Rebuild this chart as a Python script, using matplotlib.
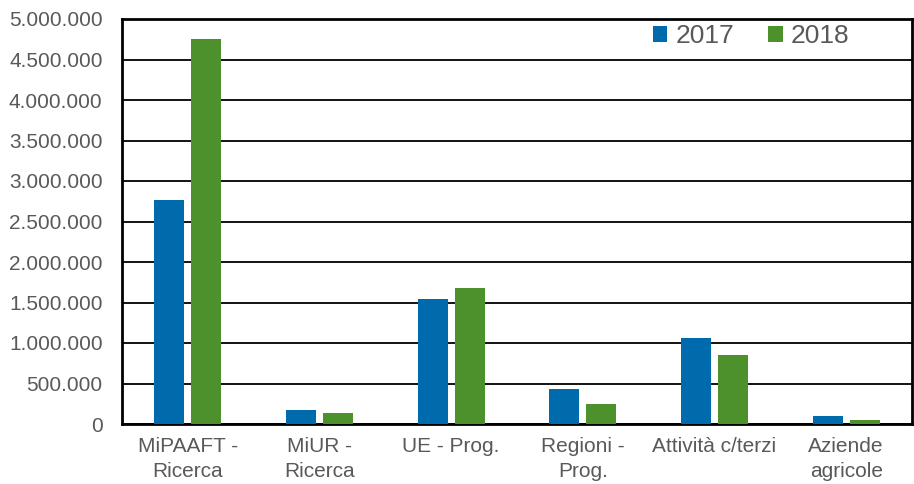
import matplotlib
matplotlib.use("Agg")
import matplotlib.pyplot as plt
import numpy as np
from matplotlib.ticker import FuncFormatter

categories = ["MiPAAFT -\nRicerca", "MiUR -\nRicerca", "UE - Prog.", "Regioni -\nProg.", "Attività c/terzi", "Aziende\nagricole"]
series_2017 = [2765000, 170000, 1540000, 430000, 1060000, 100000]
series_2018 = [4750000, 135000, 1680000, 245000, 850000, 50000]
yticks = [0, 500000, 1000000, 1500000, 2000000, 2500000, 3000000, 3500000, 4000000, 4500000, 5000000]

plt.rcParams['font.family'] = ['Liberation Sans', 'DejaVu Sans']

fig = plt.figure(figsize=(9.14, 4.84), dpi=100)
ax = fig.add_axes([122/914, 1 - 424/484, (912-122)/914, (424-19)/484])

x = np.arange(len(categories))
w = 0.228
off = 0.14
ax.bar(x - off, series_2017, width=w, color='#006bac', label='2017', zorder=3)
ax.bar(x + off, series_2018, width=w, color='#4c912b', label='2018', zorder=3)

ax.set_xlim(-0.5, len(categories) - 0.5)
ax.set_ylim(0, 5000000)
ax.set_yticks(yticks)
ax.yaxis.set_major_formatter(FuncFormatter(lambda v, p: f"{int(v):,}".replace(",", ".")))
ax.grid(axis='y', color='black', linewidth=1.3, zorder=0)
ax.set_axisbelow(True)
for s in ax.spines.values():
    s.set_linewidth(2)
    s.set_color('black')
ax.tick_params(axis='y', length=0, pad=14, labelsize=15, labelcolor='#595959')
ax.tick_params(axis='x', length=0, pad=9, labelsize=15, labelcolor='#595959')
ax.set_xticks(x)
ax.set_xticklabels(categories, linespacing=1.45)

leg = ax.legend(loc='center left', bbox_to_anchor=(0.672, 0.958), ncol=2, frameon=False,
                fontsize=19, handlelength=0.55, handleheight=0.55, handletextpad=0.3,
                columnspacing=1.3, borderaxespad=0.0, borderpad=0.0)
for t in leg.get_texts():
    t.set_color('#595959')

fig.savefig("out.png", dpi=100)
